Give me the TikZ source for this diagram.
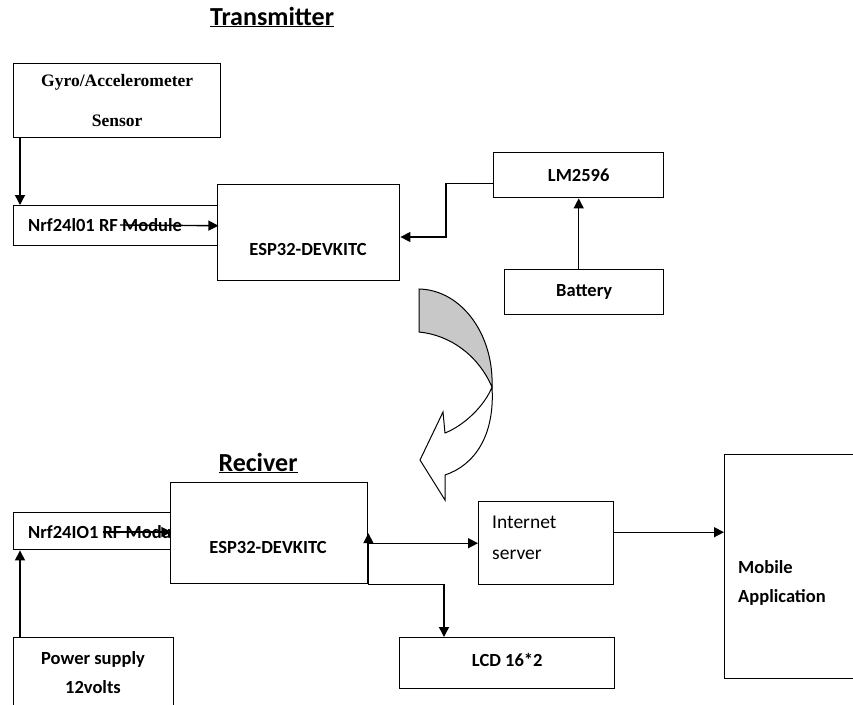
\documentclass[tikz,border=0pt]{standalone}
\usepackage{fontspec}
\setmainfont{Carlito}
\newfontfamily\gyrofont{Liberation Serif}
\usepackage{tikz}
\usetikzlibrary{positioning, arrows.meta}
\definecolor{arcgray}{RGB}{200, 200, 200}

\begin{document}
\begin{tikzpicture}[x=1pt, y=-1pt,
  box/.style={draw, line width=1.4pt, fill=white, inner sep=0pt},
  lbl/.style={font=\bfseries\fontsize{18.5}{29}\selectfont},
  ttl/.style={font=\bfseries\fontsize{26}{30}\selectfont},
  arr/.style={line width=1.4pt, -{Triangle[length=10pt, width=10pt]}}]
\useasboundingbox (0,0) rectangle (853,704);
\clip (0,0) rectangle (853,704);
% transmitter
\node[ttl] (txTitle) at (272,17) {\underline{Transmitter}};
\node[box, anchor=north west, minimum width=207, minimum height=74, align=center,
  font={\gyrofont\bfseries\fontsize{17.5}{40}\selectfont}] (gyro) at (13,63) {Gyro/Accelerometer\\Sensor};
\node[box, anchor=north west, minimum width=204, minimum height=40] (nrfT) at (13,205) {};
\node[lbl, anchor=west, inner sep=0pt] (nrfTtext) at (28,225) {Nrf24l01 RF Module};
\node[box, anchor=north west, minimum width=182, minimum height=96] (espT) at (217,184) {};
\node[lbl] (espTtext) at (308,249) {ESP32-DEVKITC};
\node[box, lbl, anchor=north west, minimum width=170, minimum height=45] (lm) at (493,152) {LM2596};
\node[box, lbl, anchor=north west, minimum width=159, minimum height=45] (battery) at (504,269) {Battery};
\coordinate (nrfTin) at (120,225);
\coordinate (lmbend) at (446,237);
\draw[arr] ([xshift=7]gyro.south west) -- ([xshift=7]nrfT.north west);
\draw[arr] (nrfTin) -- (nrfT.east);
\draw[arr] ([yshift=-8]lm.west) -| (lmbend) -- (espT.east |- lmbend);
\draw[arr] (battery.north -| lm.south) -- (lm.south);
% curved arrow
\draw[line width=1pt, fill=arcgray] (419,289) .. controls (462,290) and (494,335) .. (492,387)
  .. controls (478,355) and (450,335) .. (419,332) -- cycle;
\draw[line width=1pt, fill=white] (492,387) .. controls (485,405) and (465,425) .. (445,433)
  -- (443,412) -- (420,460) -- (445,500) -- (445,475)
  .. controls (475,465) and (495,435) .. (492,387) -- cycle;
% receiver
\node[ttl] (rxTitle) at (258,463) {\underline{Reciver}};
\node[box, anchor=north west, minimum width=157, minimum height=37] (nrfR) at (13,512) {};
\node[lbl, anchor=west, inner sep=0pt] (nrfRtext) at (28,532) {Nrf24IO1 RF Module};
\node[box, anchor=north west, minimum width=197, minimum height=101] (espR) at (170,482) {};
\node[lbl] (espRtext) at (268,547) {ESP32-DEVKITC};
\node[box, anchor=north west, minimum width=135, minimum height=83] (internet) at (478,501) {};
\node[anchor=north west, inner sep=0pt, align=left, font=\fontsize{19.5}{31}\selectfont] (internetText) at (492,516) {Internet\\server};
\node[box, lbl, anchor=north west, minimum width=215, minimum height=51] (lcd) at (399,637) {\raisebox{6pt}{LCD 16*2}};
\node[box, anchor=north west, minimum width=200, minimum height=224] (mobile) at (724,454) {};
\node[lbl, anchor=north west, inner sep=0pt, align=left] (mobileText) at (738,560) {Mobile\\Application};
\node[box, anchor=north west, minimum width=160, minimum height=100] (power) at (13,637) {};
\node[lbl, anchor=north, inner sep=0pt, align=center] (powerText) at (93,651) {Power supply\\12volts};
\coordinate (nrfRin) at (103,532);
\draw[arr] (nrfRin) -- (nrfR.east |- nrfRin);
\draw[arr] ([xshift=7]power.north west) -- ([xshift=7]nrfR.south west);
\draw[arr] (espR.south east) -- (espR.east);
\draw[arr] ([yshift=-10]espR.east) -- ([yshift=-10]espR.east -| internet.west);
\draw[arr] (espR.south east) -| ([xshift=45]lcd.north west);
\draw[arr] ([yshift=11]internet.east) -- ([yshift=11]internet.east -| mobile.west);
\end{tikzpicture}
\end{document}
